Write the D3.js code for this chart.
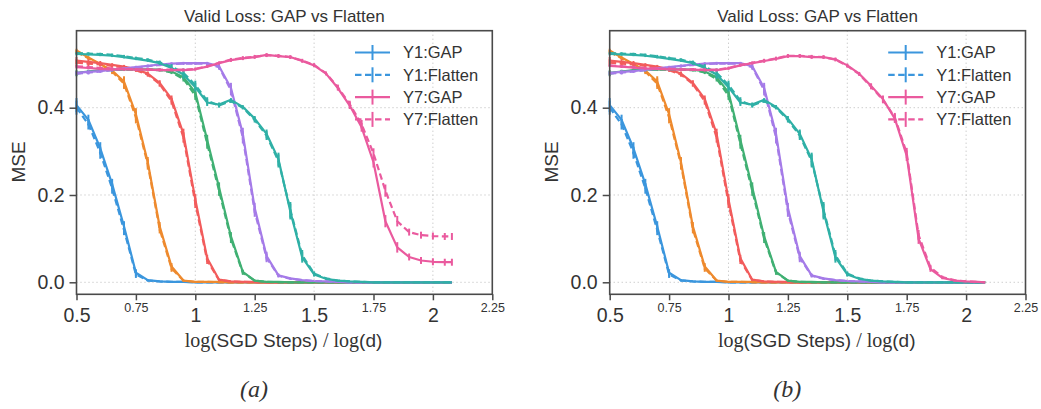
<!DOCTYPE html>
<html>
<head>
<meta charset="utf-8">
<script src="https://cdn.jsdelivr.net/npm/d3@7"></script>
<style>
body { margin: 0; background: #fff; }
svg { display: block; }
text { font-family: "Liberation Sans", Arial, Helvetica, sans-serif; fill: #333; }
</style>
</head>
<body>
<svg id="chart" width="1041" height="409"></svg>
<script>
// log(SGD steps)/log(d) sample points
const steps = [0.5, 0.55, 0.6, 0.65, 0.7, 0.75, 0.8, 0.85, 0.9, 0.95, 1.0,
	1.05, 1.1, 1.15, 1.2, 1.25, 1.3, 1.35, 1.4, 1.45, 1.5, 1.55,
	1.6, 1.65, 1.7, 1.75, 1.8, 1.85, 1.9, 1.95, 2.0, 2.05, 2.08];

const y1Gap = [0.406, 0.372, 0.307, 0.225, 0.128, 0.022, 0.005, 0.002, 0.001, 0.001, 0,
	0, 0, 0, 0, 0, 0, 0, 0, 0, 0, 0,
	0, 0, 0, 0, 0, 0, 0, 0, 0, 0, 0];
const y1Flat = [0.400, 0.362, 0.297, 0.215, 0.120, 0.018, 0.004, 0.002, 0.001, 0.001, 0,
	0, 0, 0, 0, 0, 0, 0, 0, 0, 0, 0,
	0, 0, 0, 0, 0, 0, 0, 0, 0, 0, 0];
const y1Err = [0.016, 0.012, 0.014, 0.012, 0.012, 0.008, 0.002, 0, 0, 0, 0,
	0, 0, 0, 0, 0, 0, 0, 0, 0, 0, 0,
	0, 0, 0, 0, 0, 0, 0, 0, 0, 0, 0];

const y2Gap = [0.531, 0.515, 0.500, 0.485, 0.460, 0.385, 0.275, 0.128, 0.036, 0.004, 0.001,
	0.001, 0.001, 0, 0, 0, 0, 0, 0, 0, 0, 0,
	0, 0, 0, 0, 0, 0, 0, 0, 0, 0, 0];
const y2Flat = [0.528, 0.513, 0.499, 0.483, 0.455, 0.378, 0.270, 0.122, 0.032, 0.004, 0.001,
	0.001, 0, 0, 0, 0, 0, 0, 0, 0, 0, 0,
	0, 0, 0, 0, 0, 0, 0, 0, 0, 0, 0];
const y2Err = [0.004, 0.003, 0.003, 0.006, 0.012, 0.014, 0.012, 0.010, 0.008, 0.002, 0,
	0, 0, 0, 0, 0, 0, 0, 0, 0, 0, 0,
	0, 0, 0, 0, 0, 0, 0, 0, 0, 0, 0];

const y3Gap = [0.508, 0.505, 0.502, 0.498, 0.494, 0.488, 0.478, 0.457, 0.420, 0.340, 0.190,
	0.055, 0.006, 0.002, 0.001, 0.001, 0, 0, 0, 0, 0, 0,
	0, 0, 0, 0, 0, 0, 0, 0, 0, 0, 0];
const y3Flat = [0.503, 0.501, 0.499, 0.496, 0.492, 0.486, 0.476, 0.454, 0.415, 0.332, 0.182,
	0.050, 0.005, 0.002, 0.001, 0, 0, 0, 0, 0, 0, 0,
	0, 0, 0, 0, 0, 0, 0, 0, 0, 0, 0];
const y3Err = [0.008, 0.006, 0.005, 0.004, 0.004, 0.004, 0.005, 0.006, 0.008, 0.012, 0.012,
	0.008, 0.002, 0, 0, 0, 0, 0, 0, 0, 0, 0,
	0, 0, 0, 0, 0, 0, 0, 0, 0, 0, 0];

const y4Gap = [0.480, 0.483, 0.486, 0.487, 0.488, 0.488, 0.488, 0.487, 0.483, 0.470, 0.435,
	0.326, 0.217, 0.105, 0.024, 0.004, 0.001, 0.001, 0, 0, 0, 0,
	0, 0, 0, 0, 0, 0, 0, 0, 0, 0, 0];
const y4Flat = [0.478, 0.482, 0.485, 0.486, 0.487, 0.487, 0.487, 0.486, 0.481, 0.466, 0.428,
	0.318, 0.210, 0.100, 0.022, 0.004, 0.001, 0, 0, 0, 0, 0,
	0, 0, 0, 0, 0, 0, 0, 0, 0, 0, 0];
const y4Err = [0.006, 0.004, 0.003, 0.003, 0.003, 0.003, 0.003, 0.003, 0.004, 0.006, 0.010,
	0.012, 0.012, 0.010, 0.005, 0.002, 0, 0, 0, 0, 0, 0,
	0, 0, 0, 0, 0, 0, 0, 0, 0, 0, 0];

const y5Gap = [0.480, 0.482, 0.484, 0.487, 0.490, 0.493, 0.496, 0.499, 0.501, 0.502, 0.502,
	0.502, 0.495, 0.445, 0.340, 0.170, 0.060, 0.016, 0.009, 0.005, 0.003, 0.002,
	0.001, 0, 0, 0, 0, 0, 0, 0, 0, 0, 0];
const y5Flat = [0.478, 0.480, 0.483, 0.486, 0.489, 0.492, 0.495, 0.498, 0.500, 0.501, 0.501,
	0.501, 0.493, 0.440, 0.332, 0.162, 0.056, 0.015, 0.008, 0.005, 0.003, 0.002,
	0.001, 0, 0, 0, 0, 0, 0, 0, 0, 0, 0];
const y5Err = [0.004, 0.004, 0.003, 0.003, 0.003, 0.003, 0.003, 0.003, 0.003, 0.003, 0.003,
	0.003, 0.006, 0.012, 0.014, 0.012, 0.010, 0.004, 0.002, 0, 0, 0,
	0, 0, 0, 0, 0, 0, 0, 0, 0, 0, 0];

const y6Gap = [0.523, 0.522, 0.521, 0.519, 0.516, 0.512, 0.508, 0.502, 0.491, 0.476, 0.447,
	0.412, 0.407, 0.418, 0.402, 0.375, 0.340, 0.282, 0.162, 0.057, 0.018, 0.008,
	0.004, 0.002, 0.001, 0, 0, 0, 0, 0, 0, 0, 0];
const y6Flat = [0.525, 0.524, 0.523, 0.521, 0.518, 0.514, 0.510, 0.504, 0.494, 0.480, 0.452,
	0.416, 0.405, 0.415, 0.400, 0.372, 0.336, 0.278, 0.166, 0.062, 0.020, 0.009,
	0.004, 0.002, 0.001, 0, 0, 0, 0, 0, 0, 0, 0];
const y6Err = [0.003, 0.003, 0.003, 0.003, 0.003, 0.003, 0.003, 0.004, 0.006, 0.010, 0.010,
	0.008, 0.005, 0.004, 0.004, 0.006, 0.010, 0.015, 0.018, 0.012, 0.005, 0.002,
	0, 0, 0, 0, 0, 0, 0, 0, 0, 0, 0];

// Y7 differs between the two panels
const y7GapA = [0.493, 0.491, 0.489, 0.488, 0.488, 0.487, 0.487, 0.486, 0.486, 0.486, 0.488,
	0.494, 0.502, 0.509, 0.513, 0.516, 0.521, 0.518, 0.516, 0.507, 0.497, 0.478,
	0.445, 0.405, 0.355, 0.275, 0.140, 0.080, 0.058, 0.050, 0.047, 0.046, 0.046];
const y7FlatA = [0.495, 0.493, 0.491, 0.490, 0.489, 0.488, 0.488, 0.487, 0.487, 0.487, 0.489,
	0.495, 0.503, 0.510, 0.514, 0.517, 0.520, 0.519, 0.516, 0.508, 0.498, 0.479,
	0.447, 0.408, 0.362, 0.295, 0.210, 0.140, 0.115, 0.108, 0.106, 0.105, 0.105];
const y7ErrA = [0.003, 0.003, 0.003, 0.003, 0.003, 0.003, 0.003, 0.003, 0.003, 0.003, 0.003,
	0.003, 0.003, 0.004, 0.004, 0.004, 0.004, 0.004, 0.004, 0.004, 0.004, 0.004,
	0.006, 0.008, 0.010, 0.012, 0.014, 0.012, 0.008, 0.008, 0.008, 0.008, 0.008];

const y7GapB = [0.496, 0.494, 0.492, 0.490, 0.489, 0.488, 0.487, 0.487, 0.486, 0.486, 0.490,
	0.497, 0.502, 0.507, 0.512, 0.518, 0.518, 0.516, 0.516, 0.511, 0.497, 0.478,
	0.450, 0.420, 0.375, 0.290, 0.100, 0.030, 0.010, 0.004, 0.002, 0.001, 0];
const y7FlatB = [0.497, 0.495, 0.493, 0.491, 0.490, 0.489, 0.488, 0.488, 0.487, 0.487, 0.491,
	0.498, 0.503, 0.508, 0.513, 0.519, 0.519, 0.517, 0.516, 0.510, 0.496, 0.477,
	0.448, 0.418, 0.378, 0.296, 0.108, 0.034, 0.012, 0.005, 0.002, 0.001, 0];
const y7ErrB = [0.003, 0.003, 0.003, 0.003, 0.003, 0.003, 0.003, 0.003, 0.003, 0.003, 0.003,
	0.003, 0.003, 0.004, 0.004, 0.004, 0.004, 0.004, 0.004, 0.004, 0.004, 0.004,
	0.006, 0.008, 0.010, 0.012, 0.012, 0.006, 0.003, 0.002, 0, 0, 0];

const colors = ["#3b96dd", "#ee8a2e", "#f25c5c", "#40b073", "#a57be8", "#2fb0a6", "#ea5a9e"];
const xMajor = [0.5, 1, 1.5, 2];
const xMinor = [0.75, 1.25, 1.75, 2.25];
const yTicks = [0, 0.2, 0.4];
const legendNames = ["Y1:GAP", "Y1:Flatten", "Y7:GAP", "Y7:Flatten"];

const commonSeries = [
	[y1Gap, y1Flat, y1Err],
	[y2Gap, y2Flat, y2Err],
	[y3Gap, y3Flat, y3Err],
	[y4Gap, y4Flat, y4Err],
	[y5Gap, y5Flat, y5Err],
	[y6Gap, y6Flat, y6Err]
];

const panels = [
	{ left: 76.5, tag: "(a)", series: commonSeries.concat([[y7GapA, y7FlatA, y7ErrA]]) },
	{ left: 609.7, tag: "(b)", series: commonSeries.concat([[y7GapB, y7FlatB, y7ErrB]]) }
];

const plotTop = 30.7, W = 415.8, H = 263.6;
const axisColor = "#4a4a4a";
const dash = "6.5,3.5";
const sans = "'Liberation Sans', Arial, Helvetica, sans-serif";
const serif = "'Liberation Serif', 'Times New Roman', Times, serif";

const svg = d3.select("#chart");

panels.forEach(drawPanel);

function drawPanel(p) {
	let g = svg.append("g").attr("transform", `translate(${p.left},${plotTop})`);
	let x = d3.scaleLinear().domain([0.5, 2.25]).range([0, W]);
	let y = d3.scaleLinear().domain([-0.0275, 0.5764]).range([H, 0]);

	// dotted grid
	g.selectAll(".gx").data(xMajor.slice(1)).enter().append("line")
		.attr("x1", d => x(d)).attr("x2", d => x(d))
		.attr("y1", 0).attr("y2", H)
		.attr("stroke", "#b8b8b8").attr("stroke-width", 1).attr("stroke-dasharray", "1,3");
	g.selectAll(".gy").data(yTicks).enter().append("line")
		.attr("x1", 0).attr("x2", W)
		.attr("y1", d => y(d)).attr("y2", d => y(d))
		.attr("stroke", "#b8b8b8").attr("stroke-width", 1).attr("stroke-dasharray", "1,3");

	// curves
	let line = d3.line().x((d, i) => x(steps[i])).y(d => y(d));
	p.series.forEach((s, k) => {
		let c = colors[k];
		[0, 1].forEach(j => {
			let vals = s[j];
			g.append("path").datum(vals)
				.attr("d", line)
				.attr("fill", "none")
				.attr("stroke", c)
				.attr("stroke-width", 2.2)
				.attr("stroke-linejoin", "round")
				.attr("stroke-dasharray", j == 1 ? dash : null);
			g.selectAll(null).data(vals).enter().append("line")
				.attr("x1", (d, i) => x(steps[i])).attr("x2", (d, i) => x(steps[i]))
				.attr("y1", (d, i) => y(d - s[2][i])).attr("y2", (d, i) => y(d + s[2][i]))
				.attr("stroke", c).attr("stroke-width", 2);
		});
	});

	// frame
	g.append("rect").attr("width", W).attr("height", H)
		.attr("fill", "none").attr("stroke", axisColor).attr("stroke-width", 1.6);

	// x axis
	let xa = g.append("g").attr("transform", `translate(0,${H})`)
		.call(d3.axisBottom(x).tickValues(xMajor.concat(xMinor)).tickSize(6).tickFormat(d => d3.format("")(d)));
	xa.select(".domain").remove();
	xa.attr("font-family", sans);
	xa.selectAll(".tick line").attr("stroke", axisColor).attr("stroke-width", 1.5);
	xa.selectAll(".tick text")
		.attr("dy", null)
		.attr("y", d => xMinor.includes(d) ? 18 : 28)
		.style("font-size", d => xMinor.includes(d) ? "12.5px" : "19.5px")
		.style("font-family", sans)
		.attr("fill", "#333");

	// y axis
	let ya = g.append("g")
		.call(d3.axisLeft(y).tickValues(yTicks).tickSize(7).tickFormat(d3.format(".1f")));
	ya.select(".domain").remove();
	ya.attr("font-family", sans);
	ya.selectAll(".tick line").attr("stroke", axisColor).attr("stroke-width", 1.5);
	ya.selectAll(".tick text")
		.attr("x", -12)
		.style("font-size", "19.5px")
		.style("font-family", sans)
		.attr("fill", "#333");

	// labels
	g.append("text").attr("x", W / 2).attr("y", 21.5 - plotTop)
		.attr("text-anchor", "middle").style("font-size", "17px").style("font-family", sans)
		.attr("fill", "#222")
		.text("Valid Loss: GAP vs Flatten");

	g.append("text").attr("transform", `translate(${24.5 - 76.5},${162 - plotTop}) rotate(-90)`)
		.attr("text-anchor", "middle").style("font-size", "19px").style("font-family", sans)
		.attr("fill", "#333")
		.text("MSE");

	let xl = g.append("text").attr("x", 207).attr("y", 347.5 - plotTop)
		.attr("text-anchor", "middle").style("font-size", "19px").style("font-family", sans)
		.attr("fill", "#333");
	xl.append("tspan").style("font-family", serif).style("font-size", "20px").text("log");
	xl.append("tspan").text("(SGD Steps)");
	xl.append("tspan").style("font-family", serif).style("font-size", "20px").text(" / log");
	xl.append("tspan").text("(d)");

	g.append("text").attr("x", 177.5).attr("y", 397 - plotTop)
		.attr("text-anchor", "middle")
		.style("font-family", serif).style("font-style", "italic")
		.style("font-size", "24px").attr("fill", "#222")
		.text(p.tag);

	// legend
	let lg = g.append("g").attr("transform", "translate(278.5,0)");
	legendNames.forEach((name, i) => {
		let ly = 52.5 + i * 22.3 - plotTop;
		let c = i < 2 ? colors[0] : colors[6];
		lg.append("line").attr("x1", 0).attr("x2", 35).attr("y1", ly).attr("y2", ly)
			.attr("stroke", c).attr("stroke-width", 2.2)
			.attr("stroke-dasharray", i % 2 == 1 ? dash : null);
		lg.append("line").attr("x1", 17.5).attr("x2", 17.5).attr("y1", ly - 7.5).attr("y2", ly + 7.5)
			.attr("stroke", c).attr("stroke-width", 2);
		lg.append("text").attr("x", 48).attr("y", ly).attr("dy", "0.35em")
			.style("font-size", "16.5px").style("font-family", sans)
			.attr("fill", "#333").text(name);
	});
}
</script>
</body>
</html>
